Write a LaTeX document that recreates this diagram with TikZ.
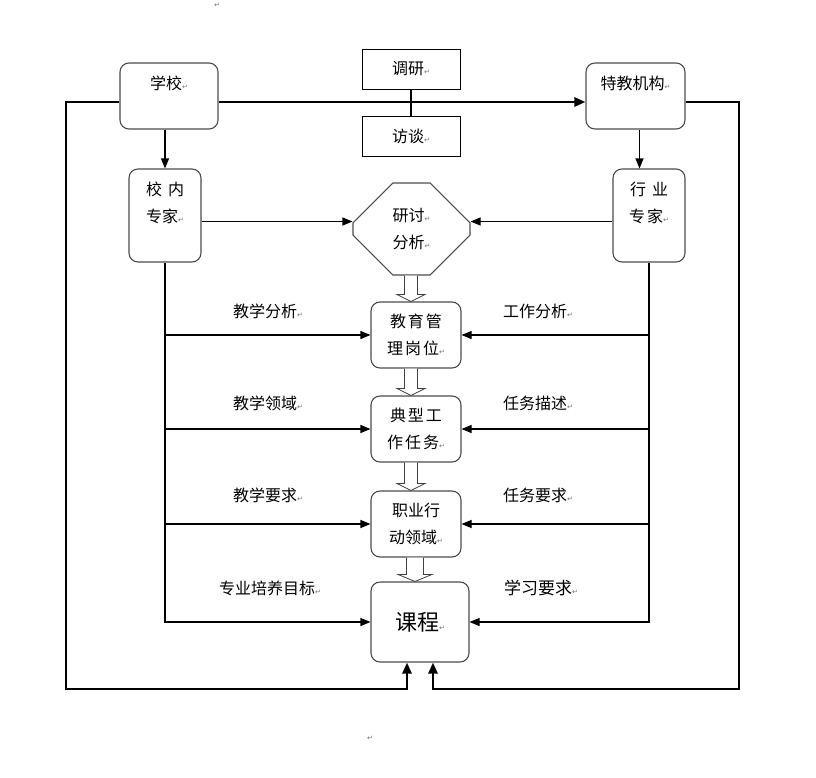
\documentclass[tikz,border=0pt]{standalone}
\usepackage{fontspec}
\usepackage{tikz}
\usetikzlibrary{arrows.meta,shapes.misc,calc}
\newfontfamily\cjk{Noto Sans CJK SC}
\newfontfamily\symfont{DejaVu Sans}
\newcommand\pmk{{\symfont\fontsize{7}{7}\selectfont\color{black!55}↵}}
% #3 half shaft width, #4 half head width
\newcommand\hollowarrow[4]{%
  \draw[hollow] let \p1=(#1.south), \p2=(#2.north) in
    (\x2-5pt-#3,\y1) -- (\x2-5pt-#3,\y2+7pt) -- (\x2-5pt-#4,\y2+7pt) -- (\x2-5pt,\y2)
    -- (\x2-5pt+#4,\y2+7pt) -- (\x2-5pt+#3,\y2+7pt) -- (\x2-5pt+#3,\y1);}

\begin{document}
\begin{tikzpicture}
[
x=1pt, y=-1pt,
every node/.style={font=\cjk\fontsize{16}{27}\selectfont, align=center},
rbox/.style={rectangle, rounded corners=9pt, draw=black!70, line width=1.1pt, inner sep=1pt},
sbox/.style={rectangle, draw=black, line width=0.9pt, minimum width=98pt, minimum height=40pt},
oct/.style={chamfered rectangle, chamfered rectangle xsep=20pt, chamfered rectangle ysep=25pt, draw=black!70, line width=1.1pt, minimum width=117pt, minimum height=92pt, inner sep=1pt},
line/.style={line width=1.1pt},
arr/.style={line width=1.1pt, -{Triangle[length=10pt,width=8pt]}},
frame/.style={line width=2.6pt, -{Triangle[length=11pt,width=9pt]}},
hollow/.style={draw=black!75, line width=0.8pt, fill=white}
]
\useasboundingbox (0,0) rectangle (816,777);

%Nodes
\node[rbox, minimum width=98pt, minimum height=66pt] (xx) at (169,96)    {学校\pmk\\~};
\node[sbox]                                          (dy) at (411,69)    {调研\pmk};
\node[sbox]                                          (ft) at (411,136)   {访谈\pmk};
\node[rbox, minimum width=99pt, minimum height=66pt] (tj) at (635.5,96)  {特教机构\pmk\\~};
\node[rbox, minimum width=72pt, minimum height=93pt] (xn) at (165,215.5) {校\hspace{6pt}内\\专家\pmk\\~};
\node[rbox, minimum width=72pt, minimum height=93pt] (hy) at (649,215.5) {行\hspace{6pt}业\\专\kern2pt家\pmk\\~};
\node[oct]                                           (yt) at (411.5,229) {研讨\pmk\\分析\pmk};
\node[rbox, minimum width=90pt, minimum height=66pt] (jy) at (416,335)   {教\kern2pt育\kern2pt管\\理\kern2pt岗\kern2pt位\pmk};
\node[rbox, minimum width=90pt, minimum height=66pt] (dx) at (416,429)   {典\kern2pt型\kern2pt工\\作\kern2pt任\kern2pt务\pmk};
\node[rbox, minimum width=90pt, minimum height=66pt] (zy) at (416,524)   {职业行\\动领域\pmk};
\node[rbox, minimum width=98pt, minimum height=80pt] (kc) at (420,622)   {\fontsize{22}{26}\selectfont 课程\pmk};

\node (la1) at (268,311) {教学分析\pmk};
\node (ra1) at (538,311) {工作分析\pmk};
\node (la2) at (268,403) {教学领域\pmk};
\node (ra2) at (538,403) {任务描述\pmk};
\node (la3) at (268,495) {教学要求\pmk};
\node (ra3) at (538,495) {任务要求\pmk};
\node (la4) at (270,588) {专业培养目标\pmk};
\node (ra4) at (541,588) {\fontsize{17}{20}\selectfont 学习要求\pmk};

\node (pm1) at (217,5)   {\pmk};
\node (pm2) at (370,738) {\pmk};

\coordinate (ltop) at (66,102);
\coordinate (rtop) at (739,102);
\coordinate (lbot) at (66,689);
\coordinate (rbot) at (739,689);

%Lines
\draw[line] (dy.south) -- (ft.north);
\draw[frame] (xx.west |- ltop) -- (ltop) -- (lbot) -| ([xshift=-13pt]kc.south);
\draw[frame] (xx.east |- ltop) -- (tj.west |- ltop);
\draw[frame] (tj.east |- rtop) -- (rtop) -- (rbot) -| ([xshift=13pt]kc.south);

\draw[arr] (xx.south -| xn) -- (xn.north);
\draw[arr] ([xshift=4pt]tj.south) -- ([xshift=4pt]tj.south |- hy.north);
\draw[arr] ([yshift=-6pt]xn.east) -- ([yshift=-6pt]xn.east -| yt.west);
\draw[arr] ([yshift=-6pt]hy.west) -- ([yshift=-6pt]hy.west -| yt.east);

\draw[arr] (xn.south) |- (kc.west);
\draw[arr] (hy.south) |- (kc.east);
\foreach \b in {jy,dx,zy} {
  \draw[arr] (xn.south |- \b.west) -- (\b.west);
  \draw[arr] (hy.south |- \b.east) -- (\b.east);
}
\foreach \a/\b in {yt/jy,jy/dx,dx/zy} {\hollowarrow{\a}{\b}{6.5pt}{14pt}}
\hollowarrow{zy}{kc}{8.5pt}{17pt}

\end{tikzpicture}
\end{document}
